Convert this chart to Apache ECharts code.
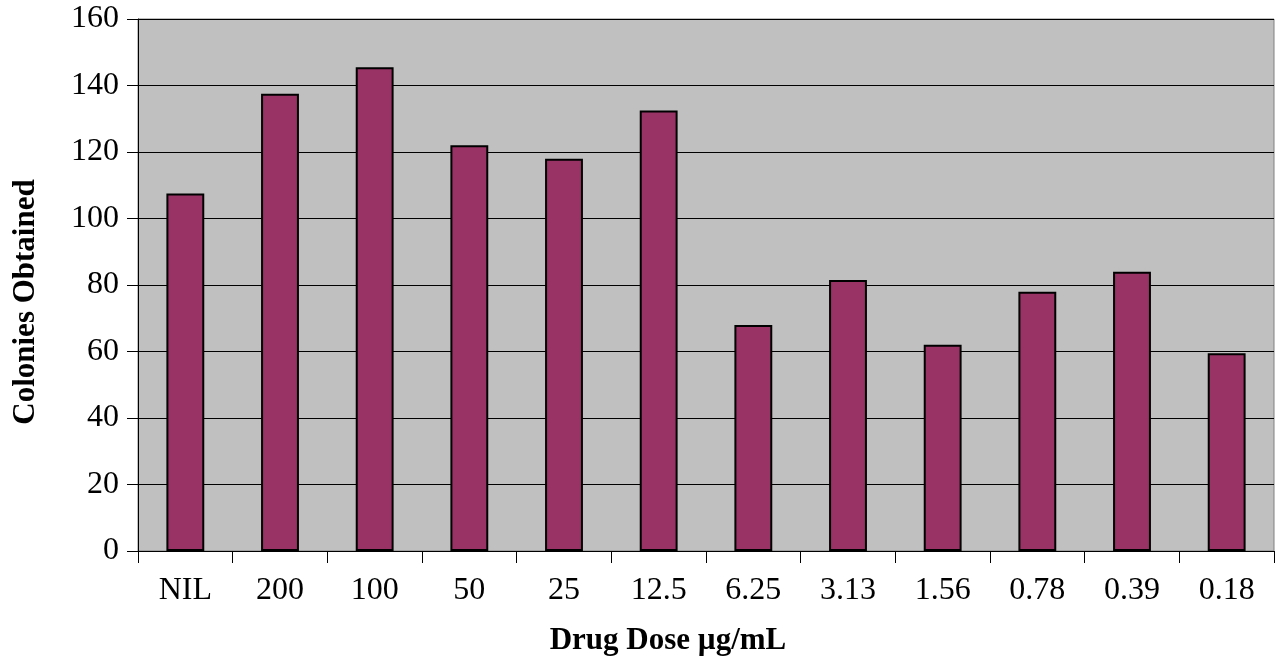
<!DOCTYPE html>
<html>
<head>
<meta charset="utf-8">
<script src="https://cdn.jsdelivr.net/npm/echarts@6/dist/echarts.min.js"></script>
<style>
  html, body { margin: 0; padding: 0; background: #ffffff; }
  #chart { width: 1281px; height: 661px; }
</style>
</head>
<body>
<div id="chart"></div>
<script>
// Colony counts per drug dose
const doseLabels = ['NIL', '200', '100', '50', '25', '12.5', '6.25', '3.13', '1.56', '0.78', '0.39', '0.18'];
const colonies = [107.5, 137.5, 145.5, 122, 118, 132.5, 68, 81.5, 62, 78, 84, 59.5];
const yTicks = { min: 0, max: 160, step: 20 };
const xTitle = 'Drug Dose µg/mL';
const yTitle = 'Colonies Obtained';

const serif = '"Liberation Serif", "Times New Roman", serif';
const titleFont = 'bold 31px ' + serif;
const chart = echarts.init(document.getElementById('chart'), null, { renderer: 'canvas' });

chart.setOption({
  backgroundColor: '#ffffff',
  animation: false,
  grid: {
    left: 138, right: 7, top: 19, bottom: 110,
    show: true,
    backgroundColor: '#c0c0c0',
    borderColor: '#808080',
    borderWidth: 1
  },
  // axis titles placed as free text
  graphic: [
    {
      type: 'text', x: 668, y: 641,
      style: { text: xTitle, font: titleFont, fill: '#000', align: 'center', verticalAlign: 'middle' }
    },
    {
      type: 'text', x: 26, y: 302, rotation: Math.PI / 2,
      style: { text: yTitle, font: titleFont, fill: '#000', align: 'center', verticalAlign: 'middle' }
    }
  ],
  xAxis: {
    type: 'category',
    data: doseLabels,
    axisLine: { lineStyle: { color: '#000', width: 1 } },
    axisTick: { show: true, length: 12, lineStyle: { color: '#000', width: 1 } },
    axisLabel: { fontFamily: serif, fontSize: 32, color: '#000', margin: 24 },
    splitLine: { show: false }
  },
  yAxis: {
    type: 'value',
    min: yTicks.min,
    max: yTicks.max,
    interval: yTicks.step,
    axisLine: { show: true, lineStyle: { color: '#000', width: 1 } },
    axisTick: { show: true, length: 11, lineStyle: { color: '#000', width: 1 } },
    axisLabel: { fontFamily: serif, fontSize: 32, color: '#000', margin: 19 },
    splitLine: { show: true, lineStyle: { color: '#000', width: 1 } }
  },
  series: [{
    type: 'bar',
    data: colonies,
    barCategoryGap: '60%',
    itemStyle: { color: '#993366', borderColor: '#000', borderWidth: 2 }
  }]
});
</script>
</body>
</html>
